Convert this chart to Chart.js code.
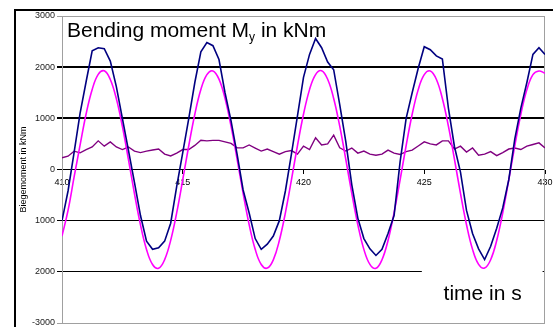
<!DOCTYPE html>
<html>
<head>
<meta charset="utf-8">
<script src="https://cdn.jsdelivr.net/npm/chart.js@4/dist/chart.umd.min.js"></script>
<style>
  html, body { margin: 0; padding: 0; background: #fff; }
  #wrap { position: relative; width: 553px; height: 327px; }
</style>
</head>
<body>
<div id="wrap"><canvas id="chart"></canvas></div>
<script>
// time in s, sampled every 0.25 s
const times = [
  410, 410.25, 410.5, 410.75, 411, 411.25, 411.5, 411.75, 412, 412.25, 412.5, 412.75,
  413, 413.25, 413.5, 413.75, 414, 414.25, 414.5, 414.75, 415, 415.25, 415.5, 415.75,
  416, 416.25, 416.5, 416.75, 417, 417.25, 417.5, 417.75, 418, 418.25, 418.5, 418.75,
  419, 419.25, 419.5, 419.75, 420, 420.25, 420.5, 420.75, 421, 421.25, 421.5, 421.75,
  422, 422.25, 422.5, 422.75, 423, 423.25, 423.5, 423.75, 424, 424.25, 424.5, 424.75,
  425, 425.25, 425.5, 425.75, 426, 426.25, 426.5, 426.75, 427, 427.25, 427.5, 427.75,
  428, 428.25, 428.5, 428.75, 429, 429.25, 429.5, 429.75, 430
];

// measured bending moment (dark blue), kNm
const measured = [
  -1000, -420, 330, 1100, 1720, 2320, 2380, 2360, 2120, 1620, 1000, 380,
  -250, -900, -1400, -1560, -1530, -1400, -1050, -330, 330, 1000, 1700, 2300,
  2480, 2420, 2150, 1500, 950, 300, -400, -850, -1350, -1560, -1460, -1300,
  -1000, -420, 300, 1050, 1800, 2250, 2560, 2380, 2100, 1950, 1270, 550,
  -300, -950, -1350, -1550, -1680, -1560, -1250, -900, 150, 1000, 1500, 1980,
  2400, 2340, 2220, 2160, 1200, 450, -50, -800, -1250, -1550, -1760, -1500,
  -1150, -750, -200, 600, 1200, 1700, 2250, 2380, 2250
];

// wave part (magenta), kNm
const wave = [
  -1300, -800, -150, 480, 1090, 1565, 1858, 1928, 1760, 1385, 843, 200,
  -470, -1082, -1563, -1857, -1930, -1762, -1386, -844, -200, 469, 1080, 1562,
  1853, 1925, 1765, 1390, 847, 205, -465, -1078, -1560, -1856, -1927, -1765,
  -1388, -846, -203, 467, 1079, 1561, 1855, 1930, 1764, 1388, 846, 203,
  -467, -1079, -1561, -1855, -1932, -1764, -1388, -846, -203, 467, 1079, 1561,
  1855, 1926, 1764, 1388, 846, 203, -467, -1079, -1561, -1855, -1926, -1764,
  -1388, -846, -203, 467, 1079, 1561, 1855, 1926, 1880
];

// wind part (purple), kNm
const wind = [
  228, 260, 358, 325, 390, 440, 560, 456, 540, 440, 390, 440,
  358, 330, 358, 380, 400, 300, 265, 320, 390, 390, 470, 570,
  560, 570, 570, 540, 510, 423, 423, 480, 420, 360, 400, 350,
  300, 350, 370, 300, 456, 390, 620, 480, 500, 670, 423, 360,
  420, 320, 360, 300, 280, 300, 380, 320, 293, 350, 380, 460,
  540, 500, 480, 560, 560, 400, 456, 340, 420, 280, 300, 350,
  270, 330, 400, 420, 390, 456, 488, 521, 423
];

const yTicks = [3000, 2000, 1000, 0, -1000, -2000, -3000];
const yTickLabels = ['3000', '2000', '1000', '0', '1000', '2000', '-3000'];

const FONT = '"Liberation Sans", Arial, sans-serif';

const pts = vals => times.map((t, i) => ({ x: t, y: vals[i] }));

const decor = {
  id: 'decor',
  beforeDatasetsDraw(chart) {
    const { ctx, chartArea: a, scales: { x, y } } = chart;
    ctx.save();
    // right border of plot area
    ctx.strokeStyle = '#a0a0a0';
    ctx.lineWidth = 1;
    ctx.beginPath();
    ctx.moveTo(Math.round(a.right) - 0.5, a.top);
    ctx.lineTo(Math.round(a.right) - 0.5, a.bottom);
    ctx.stroke();

    // white label box for the time caption
    const bx = x.getPixelForValue(424.9), by = y.getPixelForValue(-1965);
    ctx.fillStyle = '#fff';
    ctx.fillRect(bx, by, x.getPixelForValue(429.9) - bx, y.getPixelForValue(-2950) - by);

    ctx.fillStyle = '#000';
    ctx.textBaseline = 'alphabetic';
    ctx.font = '21px ' + FONT;
    ctx.fillText('time in s', x.getPixelForValue(425.8), y.getPixelForValue(-2560));

    // chart caption with subscript
    let tx = a.left + 5;
    const ty = a.top + 21;
    const p1 = 'Bending moment M';
    ctx.fillText(p1, tx, ty);
    tx += ctx.measureText(p1).width;
    ctx.font = '12px ' + FONT;
    ctx.fillText('y', tx, ty + 4);
    tx += ctx.measureText('y').width;
    ctx.font = '21px ' + FONT;
    ctx.fillText(' in kNm', tx, ty);
    ctx.restore();
  },
  afterDraw(chart) {
    const { ctx, width, height } = chart;
    ctx.save();
    ctx.strokeStyle = '#000';
    ctx.lineWidth = 2;
    ctx.beginPath();
    ctx.moveTo(15, height);
    ctx.lineTo(15, 10);
    ctx.lineTo(width, 10);
    ctx.stroke();
    ctx.restore();
  }
};

new Chart(document.getElementById('chart'), {
  type: 'line',
  data: {
    datasets: [
      { label: 'measured', data: pts(measured), borderColor: '#000080', borderWidth: 1.6, tension: 0, pointRadius: 0 },
      { label: 'wave', data: pts(wave), borderColor: '#ff00ff', borderWidth: 1.6, tension: 0.4, pointRadius: 0 },
      { label: 'wind', data: pts(wind), borderColor: '#800080', borderWidth: 1.4, tension: 0, pointRadius: 0 }
    ]
  },
  options: {
    responsive: true,
    maintainAspectRatio: false,
    animation: false,
    layout: { padding: { left: 0, top: 16, right: 8, bottom: 4 } },
    plugins: { legend: { display: false }, tooltip: { enabled: false } },
    scales: {
      x: {
        type: 'linear',
        min: 410,
        max: 430,
        position: { y: 0 },
        border: { display: false },
        grid: { drawOnChartArea: false, tickLength: 4, color: '#000' },
        ticks: { stepSize: 5, padding: 4, color: '#000', font: { family: FONT, size: 9 } },
        afterFit: s => { s.paddingLeft = 0; s.paddingRight = 0; }
      },
      y: {
        min: -3000,
        max: 3000,
        afterFit: s => { s.width = 62; s.paddingTop = 0; s.paddingBottom = 0; },
        afterBuildTicks: s => { s.ticks = yTicks.map(v => ({ value: v })); },
        border: { color: '#a0a0a0' },
        grid: {
          color: c => (Math.abs(c.tick.value) === 3000 ? '#a0a0a0' : '#000'),
          lineWidth: c => (c.tick.value > 0 && c.tick.value < 3000 ? 2 : 1),
          tickLength: 5
        },
        ticks: {
          padding: 2,
          color: '#222',
          font: { family: FONT, size: 9 },
          callback: v => yTickLabels[yTicks.indexOf(v)]
        },
        title: {
          display: true,
          text: 'Biegemoment in kNm',
          color: '#000',
          font: { family: FONT, size: 9 },
          padding: { top: 18, bottom: 0 }
        }
      }
    }
  },
  plugins: [decor]
});
</script>
</body>
</html>
